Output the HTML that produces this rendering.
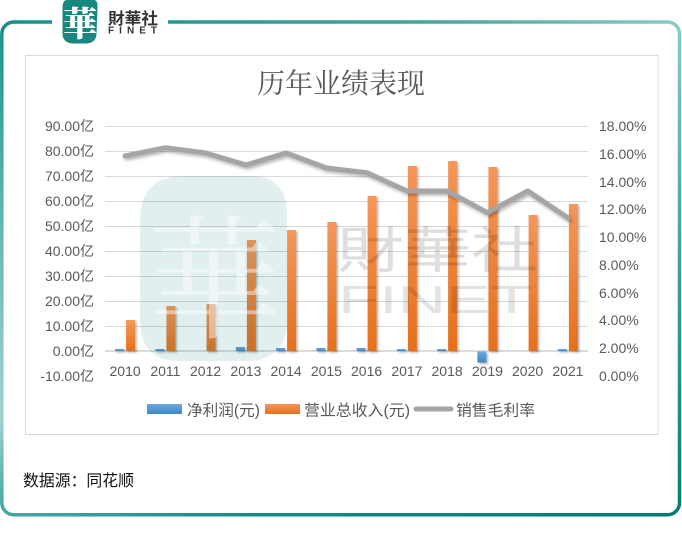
<!DOCTYPE html>
<html><head><meta charset="utf-8"><style>
html,body{margin:0;padding:0;background:#fff;}
svg{display:block;}
</style></head><body>
<svg width="682" height="537" viewBox="0 0 682 537" xmlns="http://www.w3.org/2000/svg">
<defs>
<linearGradient id="gTop" gradientUnits="userSpaceOnUse" x1="0" y1="0" x2="682" y2="0"><stop offset="0" stop-color="#14908a"/><stop offset="0.6" stop-color="#3ea39d"/><stop offset="1" stop-color="#8ccac6"/></linearGradient>
<linearGradient id="gRight" gradientUnits="userSpaceOnUse" x1="0" y1="22" x2="0" y2="515"><stop offset="0" stop-color="#8ccac6"/><stop offset="0.5" stop-color="#3f9f99"/><stop offset="1" stop-color="#067c75"/></linearGradient>
<linearGradient id="gBottom" gradientUnits="userSpaceOnUse" x1="0" y1="0" x2="682" y2="0"><stop offset="0" stop-color="#4aa8a2"/><stop offset="0.4" stop-color="#108a83"/><stop offset="1" stop-color="#007a73"/></linearGradient>
<linearGradient id="gLeft" gradientUnits="userSpaceOnUse" x1="0" y1="22" x2="0" y2="515"><stop offset="0" stop-color="#14908a"/><stop offset="0.4" stop-color="#5fb4af"/><stop offset="0.8" stop-color="#9fd2ce"/><stop offset="1" stop-color="#3aa19b"/></linearGradient>
<linearGradient id="gOr" x1="0" y1="0" x2="0" y2="1"><stop offset="0" stop-color="#f4975a"/><stop offset="1" stop-color="#e5701c"/></linearGradient>
<linearGradient id="gBl" x1="0" y1="0" x2="0" y2="1"><stop offset="0" stop-color="#6ea8de"/><stop offset="1" stop-color="#3f86c8"/></linearGradient>
<filter id="sh" x="-50%" y="-50%" width="200%" height="200%"><feDropShadow dx="1.5" dy="1.5" stdDeviation="1" flood-color="#000" flood-opacity="0.3"/></filter>
<filter id="shl" x="-10%" y="-50%" width="120%" height="200%"><feDropShadow dx="1.5" dy="2" stdDeviation="1.5" flood-color="#000" flood-opacity="0.3"/></filter>
</defs>

<!-- outer frame -->
<g fill="none" stroke-width="3.5" stroke-linecap="butt">
<path d="M1.8,34 A12,12 0 0 1 13.8,22 L52,22" stroke="url(#gTop)"/>
<path d="M168,22 L667.5,22 A12,12 0 0 1 679.5,34" stroke="url(#gTop)"/>
<path d="M679.5,34 L679.5,502.8 A12,12 0 0 1 667.5,514.8" stroke="url(#gRight)"/>
<path d="M667.5,514.8 L13.8,514.8 A12,12 0 0 1 1.8,502.8" stroke="url(#gBottom)"/>
<path d="M1.8,502.8 L1.8,34" stroke="url(#gLeft)"/>
</g>

<!-- top logo -->
<path d="M67,0 L94,0 Q98,0 97.5,8 L96.5,34 Q96,43 86,43.5 L73,43.5 Q62.5,43 62.5,33 L62.5,8 Q62.5,0 67,0 Z" fill="#17877f"/>
<text x="80" y="36" text-anchor="middle" font-family="'Noto Serif CJK SC',serif" font-weight="900" font-size="34" fill="#fff">華</text>
<text x="108" y="24" font-family="'Noto Sans CJK SC',sans-serif" font-weight="700" font-size="16" fill="#333" textLength="50" lengthAdjust="spacingAndGlyphs">財華社</text>
<text x="108" y="33.5" font-family="'Liberation Sans',sans-serif" font-weight="700" font-size="10" fill="#333" textLength="49" lengthAdjust="spacing">FINET</text>

<!-- chart box -->
<rect x="25.5" y="55.5" width="632.5" height="379" fill="#fff" stroke="#d9d9d9" stroke-width="1"/>

<!-- title -->
<text x="341" y="93" text-anchor="middle" font-family="'Noto Serif CJK SC',serif" font-size="28" fill="#595959">历年业绩表现</text>

<!-- gridlines -->
<g stroke="#d9d9d9" stroke-width="1">
<line x1="105" x2="588" y1="126.5" y2="126.5"/>
<line x1="105" x2="588" y1="151.5" y2="151.5"/>
<line x1="105" x2="588" y1="176.5" y2="176.5"/>
<line x1="105" x2="588" y1="201.5" y2="201.5"/>
<line x1="105" x2="588" y1="226.5" y2="226.5"/>
<line x1="105" x2="588" y1="251.5" y2="251.5"/>
<line x1="105" x2="588" y1="276.5" y2="276.5"/>
<line x1="105" x2="588" y1="301.5" y2="301.5"/>
<line x1="105" x2="588" y1="326.5" y2="326.5"/>
<line x1="105" x2="588" y1="351" y2="351" stroke="#cfcfcf" stroke-width="1.5"/>
</g>

<!-- left axis labels -->
<g font-family="'Liberation Sans','Noto Sans CJK SC',sans-serif" font-size="14" fill="#595959" text-anchor="end">
<text x="94" y="131">90.00亿</text>
<text x="94" y="156">80.00亿</text>
<text x="94" y="181">70.00亿</text>
<text x="94" y="206">60.00亿</text>
<text x="94" y="231">50.00亿</text>
<text x="94" y="256">40.00亿</text>
<text x="94" y="281">30.00亿</text>
<text x="94" y="306">20.00亿</text>
<text x="94" y="331">10.00亿</text>
<text x="94" y="356">0.00亿</text>
<text x="94" y="381">-10.00亿</text>
</g>

<!-- right axis labels -->
<g font-family="'Liberation Sans',sans-serif" font-size="14" fill="#595959">
<text x="599" y="131">18.00%</text>
<text x="599" y="159">16.00%</text>
<text x="599" y="187">14.00%</text>
<text x="599" y="214">12.00%</text>
<text x="599" y="242">10.00%</text>
<text x="599" y="270">8.00%</text>
<text x="599" y="298">6.00%</text>
<text x="599" y="325">4.00%</text>
<text x="599" y="353">2.00%</text>
<text x="599" y="381">0.00%</text>
</g>

<!-- orange bars -->
<g fill="url(#gOr)" filter="url(#sh)">
<rect x="126.1" y="320" width="9" height="31"/>
<rect x="166.4" y="306" width="9" height="45"/>
<rect x="206.6" y="304" width="9" height="47"/>
<rect x="246.9" y="240" width="9" height="111"/>
<rect x="287.1" y="230" width="9" height="121"/>
<rect x="327.4" y="222" width="9" height="129"/>
<rect x="367.6" y="196" width="9" height="155"/>
<rect x="407.9" y="166" width="9" height="185"/>
<rect x="448.1" y="161" width="9" height="190"/>
<rect x="488.4" y="167" width="9" height="184"/>
<rect x="528.6" y="215" width="9" height="136"/>
<rect x="568.9" y="204" width="9" height="147"/>
</g>

<!-- blue bars -->
<g fill="url(#gBl)" filter="url(#sh)">
<rect x="115.1" y="349" width="9" height="2"/>
<rect x="155.4" y="349" width="9" height="2"/>
<rect x="235.9" y="347" width="9" height="4"/>
<rect x="276.1" y="348" width="9" height="3"/>
<rect x="316.4" y="348" width="9" height="3"/>
<rect x="356.6" y="348" width="9" height="3"/>
<rect x="396.9" y="349" width="9" height="2"/>
<rect x="437.1" y="349" width="9" height="2"/>
<rect x="477.4" y="351.5" width="9" height="11"/>
<rect x="557.9" y="349" width="9" height="2"/>
</g>

<!-- margin line -->
<polyline filter="url(#shl)" fill="none" stroke="#a5a5a5" stroke-width="5" stroke-linejoin="round" stroke-linecap="round"
points="125.1,156 165.4,147.7 205.6,153 245.9,165 286.1,153 326.4,168 366.6,172.7 406.9,191 447.1,191 487.4,212.7 527.6,191 567.9,218"/>

<!-- watermark logo -->
<path d="M185,176 L250,176 Q287,176 287,215 L287,320 Q287,361 245,361 L180,361 Q140,361 140,320 L140,220 Q140,176 185,176 Z" fill="#0a7a7a" fill-opacity="0.12"/>
<text x="214" y="328" text-anchor="middle" font-family="'Noto Serif CJK SC',serif" font-weight="400" font-size="135" fill="#fff" fill-opacity="0.45">華</text>

<!-- watermark text -->
<text x="337" y="268" font-family="'Noto Sans CJK SC',sans-serif" font-size="50" fill="#000" fill-opacity="0.13" textLength="201" lengthAdjust="spacingAndGlyphs">財華社</text>
<text x="338" y="313" font-family="'Liberation Sans',sans-serif" font-size="39" fill="#000" fill-opacity="0.11" textLength="194" lengthAdjust="spacingAndGlyphs">FINET</text>

<!-- year labels -->
<g font-family="'Liberation Sans',sans-serif" font-size="14" fill="#595959" text-anchor="middle">
<text x="125.1" y="376">2010</text>
<text x="165.4" y="376">2011</text>
<text x="205.6" y="376">2012</text>
<text x="245.9" y="376">2013</text>
<text x="286.1" y="376">2014</text>
<text x="326.4" y="376">2015</text>
<text x="366.6" y="376">2016</text>
<text x="406.9" y="376">2017</text>
<text x="447.1" y="376">2018</text>
<text x="487.4" y="376">2019</text>
<text x="527.6" y="376">2020</text>
<text x="567.9" y="376">2021</text>
</g>

<!-- legend -->
<rect x="147" y="404" width="35" height="10" fill="url(#gBl)"/>
<rect x="265" y="404" width="35" height="10" fill="url(#gOr)"/>
<line x1="416" x2="451" y1="409" y2="409" stroke="#a5a5a5" stroke-width="5" stroke-linecap="round"/>
<g font-family="'Liberation Sans','Noto Sans CJK SC',sans-serif" font-size="15.5" fill="#595959">
<text x="187" y="415.5" textLength="73" lengthAdjust="spacingAndGlyphs">净利润(元)</text>
<text x="304" y="415.5" textLength="106" lengthAdjust="spacingAndGlyphs">营业总收入(元)</text>
<text x="456" y="415.5" textLength="79" lengthAdjust="spacingAndGlyphs">销售毛利率</text>
</g>

<!-- footer -->
<text x="23" y="486" font-family="'Noto Sans CJK SC',sans-serif" font-size="16" fill="#111" textLength="111" lengthAdjust="spacingAndGlyphs">数据源：同花顺</text>
</svg>
</body></html>
